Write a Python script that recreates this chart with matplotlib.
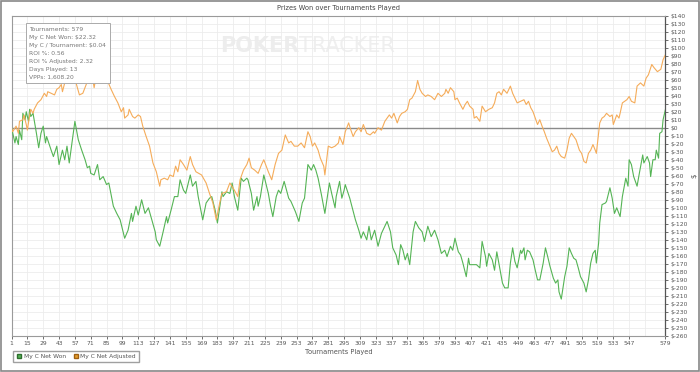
import matplotlib
matplotlib.use("Agg")
import matplotlib.pyplot as plt
from matplotlib.patches import Rectangle
from matplotlib.lines import Line2D

# tournament number / cumulative dollars
won_t = [1, 4, 5, 7, 8, 10, 11, 13, 14, 16, 17, 18, 20, 23, 25, 27, 29, 31, 32, 36, 38, 41, 43, 46, 48, 50,
         52, 57, 60, 63, 66, 68, 70, 71, 74, 77, 79, 82, 85, 87, 91, 94, 97, 101, 104, 107, 108, 111, 113,
         116, 119, 122, 125, 128, 129, 132, 135, 138, 139, 142, 145, 148, 150, 153, 155, 159, 161, 164, 166,
         170, 173, 176, 178, 181, 183, 187, 188, 191, 194, 196, 198, 201, 204, 206, 209, 210, 213, 215, 218,
         219, 221, 224, 228, 230, 232, 235, 237, 239, 242, 246, 248, 252, 255, 258, 260, 263, 266, 268, 270,
         272, 275, 278, 282, 284, 287, 288, 291, 293, 295, 296, 300, 305, 308, 310, 312, 315, 317, 319, 322,
         325, 328, 331, 333, 336, 338, 341, 343, 345, 347, 349, 351, 353, 356, 358, 361, 364, 366, 369, 372,
         375, 378, 381, 384, 386, 389, 391, 393, 396, 398, 400, 403, 405, 406, 409, 412, 415, 417, 420, 421,
         423, 426, 428, 430, 433, 435, 437, 440, 442, 444, 446, 448, 451, 452, 454, 455, 457, 459, 462, 464,
         466, 468, 471, 473, 475, 477, 480, 482, 484, 485, 487, 490, 492, 494, 496, 498, 500, 502, 504, 507,
         509, 511, 513, 515, 517, 518, 520, 521, 523, 526, 527, 530, 532, 534, 536, 539, 541, 544, 546, 547,
         549, 551, 554, 556, 559, 560, 563, 565, 566, 568, 570, 571, 573, 574, 576, 577, 579]
won_v = [0, -19, -11, -21, -3, -15, 18, 10, 20, 8, 23, 14, 18, -7, -25, -7, 2, -19, -11, -28, -36, -23, -46,
         -28, -40, -23, -44, 8, -15, -28, -40, -50, -48, -57, -59, -46, -65, -61, -71, -69, -98, -107, -115,
         -138, -128, -107, -117, -98, -109, -90, -107, -100, -115, -130, -140, -148, -130, -111, -119, -103,
         -86, -86, -65, -78, -82, -59, -73, -67, -86, -115, -94, -88, -86, -103, -119, -80, -86, -80, -82,
         -69, -86, -103, -63, -67, -63, -65, -82, -103, -86, -98, -86, -59, -82, -98, -111, -86, -78, -82,
         -67, -88, -92, -105, -117, -94, -88, -46, -53, -46, -53, -63, -84, -107, -69, -82, -100, -86, -67,
         -88, -78, -71, -88, -115, -128, -138, -130, -140, -123, -140, -128, -148, -132, -123, -117, -130,
         -150, -159, -171, -146, -153, -165, -157, -171, -130, -117, -125, -130, -142, -123, -136, -128, -140,
         -157, -153, -161, -148, -153, -138, -155, -159, -169, -186, -163, -171, -171, -171, -175, -142, -161,
         -173, -157, -165, -178, -155, -178, -194, -200, -200, -169, -150, -167, -175, -153, -157, -150, -165,
         -153, -155, -165, -178, -190, -190, -169, -150, -161, -173, -188, -194, -190, -205, -214, -186, -173,
         -150, -157, -163, -165, -175, -186, -194, -205, -190, -169, -157, -153, -169, -144, -119, -96, -94,
         -92, -75, -88, -107, -100, -111, -86, -63, -73, -40, -46, -61, -73, -57, -34, -44, -36, -44, -61, -40,
         -40, -28, -38, -7, -5, 10, 22.32]

adj_t = [1, 2, 5, 7, 8, 11, 12, 14, 15, 17, 18, 20, 21, 24, 27, 30, 32, 33, 36, 39, 41, 43, 45, 46, 48, 51,
         52, 54, 55, 57, 58, 61, 64, 67, 69, 72, 74, 76, 77, 79, 81, 83, 86, 89, 92, 95, 98, 100, 101, 104,
         105, 108, 110, 113, 115, 117, 120, 123, 126, 129, 132, 133, 136, 139, 141, 144, 146, 148, 150, 153,
         156, 159, 161, 164, 169, 173, 176, 179, 182, 185, 187, 191, 194, 198, 201, 203, 206, 209, 211, 213,
         216, 219, 222, 224, 228, 231, 234, 237, 240, 243, 246, 248, 251, 254, 257, 260, 263, 265, 267, 269,
         272, 274, 277, 278, 281, 284, 287, 290, 291, 294, 296, 299, 301, 303, 305, 308, 310, 312, 315, 318,
         321, 322, 325, 328, 331, 333, 335, 337, 339, 342, 344, 346, 349, 351, 353, 355, 358, 360, 362, 364,
         367, 369, 372, 375, 378, 381, 384, 385, 387, 389, 392, 393, 395, 397, 400, 402, 404, 406, 409, 410,
         412, 415, 417, 420, 423, 426, 428, 430, 432, 434, 436, 439, 442, 444, 446, 448, 451, 454, 456, 458,
         460, 462, 465, 466, 468, 470, 472, 474, 477, 479, 481, 483, 485, 487, 490, 492, 494, 496, 498, 500,
         503, 505, 507, 509, 511, 513, 515, 517, 518, 521, 523, 525, 527, 530, 532, 533, 536, 538, 539, 541,
         543, 545, 547, 549, 552, 554, 557, 560, 562, 564, 567, 569, 572, 575, 577, 579]
adj_v = [0, -5, 2, -7, 8, 10, 16, 4, -3, 16, 23, 18, 23, 31, 35, 43, 39, 45, 43, 41, 48, 50, 54, 45, 56, 58,
         64, 60, 70, 62, 56, 41, 43, 54, 62, 68, 50, 66, 82, 73, 77, 64, 58, 48, 39, 31, 20, 25, 12, 16, 23,
         14, 12, 16, 14, 2, -11, -23, -44, -55, -73, -65, -63, -65, -59, -61, -48, -55, -40, -46, -53, -36,
         -46, -55, -59, -69, -82, -94, -115, -94, -82, -80, -69, -78, -86, -65, -53, -46, -38, -50, -53, -57,
         -46, -40, -55, -65, -46, -32, -28, -9, -19, -17, -23, -23, -19, -25, -5, -11, -23, -19, -28, -38, -48,
         -59, -23, -25, -23, -19, -11, -21, -5, 6, -3, -11, -5, 0, -5, 4, -7, -9, -5, -7, 0, -3, 8, 12, 16,
         12, 18, 6, 14, 18, 20, 23, 35, 37, 45, 59, 48, 43, 39, 41, 39, 35, 43, 39, 43, 48, 43, 50, 45, 35,
         37, 31, 23, 29, 33, 27, 23, 12, 14, 8, 27, 20, 23, 25, 31, 43, 45, 41, 48, 43, 52, 43, 37, 31, 33,
         35, 29, 33, 25, 20, 8, 4, 10, 2, -5, -13, -23, -30, -28, -23, -32, -36, -38, -28, -13, -7, -11, -15,
         -28, -32, -42, -44, -32, -28, -21, -28, -32, 6, 12, 14, 18, 14, 16, 4, 16, 12, 18, 31, 33, 35, 39,
         33, 31, 52, 56, 52, 62, 66, 79, 75, 70, 73, 85, 91]

x_ticks = list(range(1, 548, 14)) + [579]
y_ticks = list(range(-260, 141, 10))

stats = ["Tournaments: 579", "My C Net Won: $22.32", "My C / Tournament: $0.04", "ROI %: 0.56",
         "ROI % Adjusted: 2.32", "Days Played: 13", "VPPs: 1,608.20"]

GREEN = "#55b455"
ORANGE = "#f5ac5a"
TXT = "#555555"

fig = plt.figure(figsize=(7, 3.72), dpi=100)
ax = fig.add_axes([0.0165, 0.097, 0.934, 0.861])

ax.plot(won_t, won_v, color=GREEN, lw=0.8, zorder=3)
ax.plot(adj_t, adj_v, color=ORANGE, lw=0.8, zorder=3)
ax.axhline(0, color="#8a8a8a", lw=1.0, zorder=2)

ax.set_xlim(1, 579)
ax.set_ylim(-260, 140)
ax.set_xticks(x_ticks)
ax.set_xticks([561], minor=True)
ax.set_yticks(y_ticks)
ax.set_yticklabels(["$%d" % v for v in y_ticks])
ax.yaxis.tick_right()
ax.yaxis.set_label_position("right")
ax.tick_params(axis="both", labelsize=4.3, colors=TXT, length=2.5, width=0.6, pad=1.5)
ax.tick_params(axis="x", which="minor", length=0)
ax.grid(True, which="both", color="#ececec", lw=0.6, zorder=0)

for side in ["left", "top", "bottom"]:
    ax.spines[side].set_color("#9a9a9a")
    ax.spines[side].set_linewidth(0.8)
ax.spines["right"].set_color("#555555")
ax.spines["right"].set_linewidth(0.9)

ax.set_xlabel("Tournaments Played", fontsize=4.8, color=TXT, labelpad=1.5)
ax.set_ylabel("$", fontsize=5, color=TXT, rotation=90, labelpad=2)
fig.text(0.483, 0.978, "Prizes Won over Tournaments Played", fontsize=4.8, color="#444444",
         ha="center", va="center")

# watermark
ax.text(0.44, 0.905, "POKER", transform=ax.transAxes, fontsize=15, fontweight="bold",
        color="#ededed", ha="right", va="center", zorder=1)
ax.text(0.44, 0.905, "TRACKER", transform=ax.transAxes, fontsize=15, color="#efefef",
        ha="left", va="center", zorder=1)

# stats box
ax.text(0.027, 0.965, "\n".join(stats), transform=ax.transAxes, fontsize=4.3, color="#777777",
        ha="left", va="top", linespacing=1.75, zorder=5,
        bbox=dict(boxstyle="square,pad=0.6", fc="white", ec="#aaaaaa", lw=0.7))

handles = [Line2D([], [], marker="s", ls="none", color=GREEN, markeredgecolor="#2e6e2e",
                  markersize=3.5),
           Line2D([], [], marker="s", ls="none", color="#e8a030", markeredgecolor="#a06010",
                  markersize=3.5)]
fig.legend(handles, ["My C Net Won", "My C Net Adjusted"], loc="lower left",
           bbox_to_anchor=(0.015, 0.018), ncol=2, fontsize=4.3, frameon=True, fancybox=False,
           edgecolor="#888888", handletextpad=0.2, columnspacing=1.2, borderpad=0.5,
           handlelength=1.0, labelcolor=TXT)

fig.patches.append(Rectangle((0.001, 0.002), 0.998, 0.995, transform=fig.transFigure,
                             fill=False, ec="#888888", lw=1.2))

fig.savefig("out.png", dpi=100)
